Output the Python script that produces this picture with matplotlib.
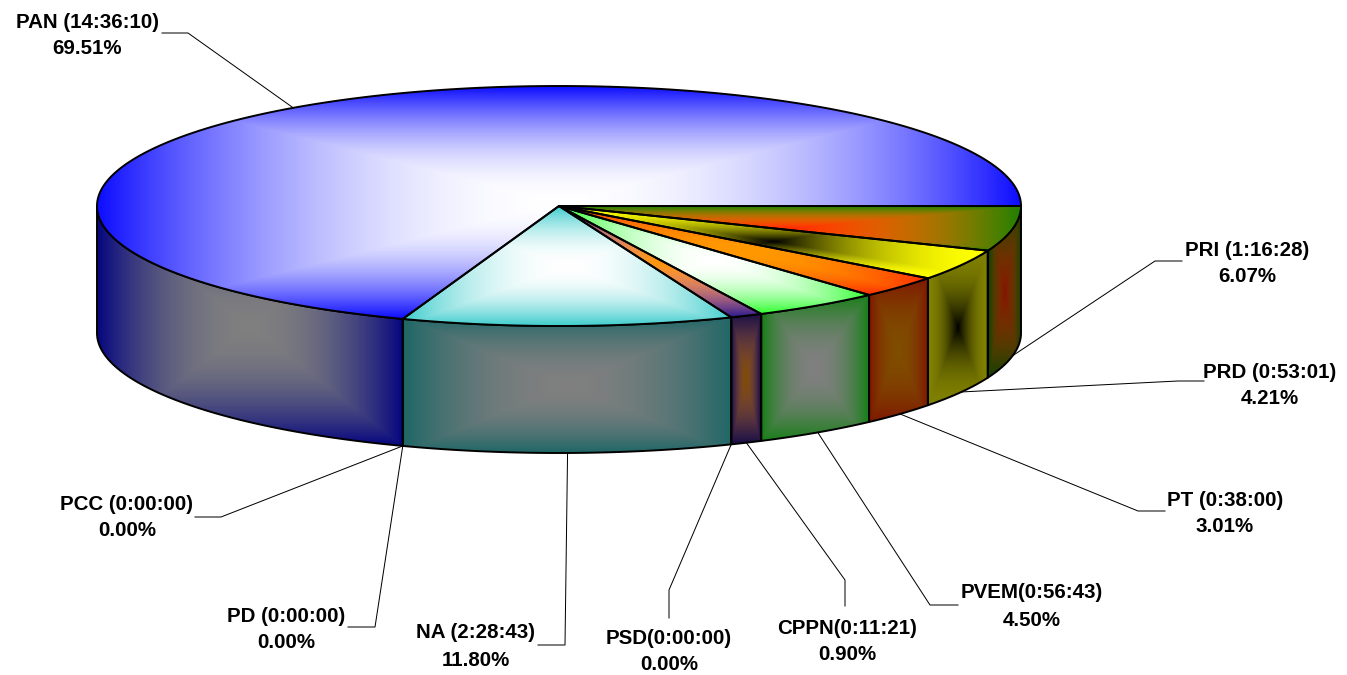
import numpy as np
import matplotlib
matplotlib.use("Agg")
import matplotlib.pyplot as plt
from matplotlib.patches import PathPatch
from matplotlib.path import Path

# ---- data ----
parties = ["PRI", "PRD", "PT", "PVEM", "CPPN", "PSD", "NA", "PD", "PCC", "PAN"]
times = ["PRI (1:16:28)", "PRD (0:53:01)", "PT (0:38:00)", "PVEM(0:56:43)", "CPPN(0:11:21)",
         "PSD(0:00:00)", "NA (2:28:43)", "PD (0:00:00)", "PCC (0:00:00)", "PAN (14:36:10)"]
pct_labels = ["6.07%", "4.21%", "3.01%", "4.50%", "0.90%", "0.00%", "11.80%", "0.00%", "0.00%", "69.51%"]
# slice shares as drawn in the picture
shares = [6.07, 4.21, 3.01, 4.50, 1.13, 0.00, 11.57, 0.00, 0.00, 69.51]
edge_colors = ["#228000", "#FFFF00", "#FF3000", "#30FF30", "#301C8C", "#000000", "#40CDCD", "#000000", "#000000", "#0C0CFF"]
center_colors = ["#FF2800", "#000000", "#FF9900", "#FFFFFF", "#FF9600", "#000000", "#FFFFFF", "#000000", "#000000", "#FFFFFF"]

# ---- layout (pixels) ----
W, H = 1347, 675
CX, CY, RX, RY, DEPTH = 559.0, 206.0, 462.0, 120.0, 127.0
LW = 1.4
FS = 14.8
# label: elbow, line end, text centre x, first-line y, second-line y
label_layout = {
    "PRI": ((1155, 261), (1182, 261), 1247, 250, 276),
    "PRD": ((1178, 381), (1204, 381), 1270, 372, 398),
    "PT": ((1138, 511), (1165, 511), 1225, 500, 526),
    "PVEM": ((930, 605), (958, 605), 1032, 593, 620),
    "CPPN": ((845, 580), (845, 606), 847, 629, 655),
    "PSD": ((669, 590), (669, 618), 669, 639, 665),
    "NA": ((565, 645), (538, 645), 476, 633, 660),
    "PD": ((375, 627), (348, 627), 286, 616, 642),
    "PCC": ((221, 517), (195, 517), 127, 505, 531),
    "PAN": ((188, 33), (162, 33), 87, 22, 49),
}

plt.rcParams["font.family"] = ["Liberation Sans", "DejaVu Sans"]
fig = plt.figure(figsize=(W / 100, H / 100), dpi=100)
ax = fig.add_axes([0, 0, 1, 1])
ax.set_xlim(0, W)
ax.set_ylim(H, 0)
ax.axis("off")


def ell(a, dy=0.0):
    a = np.radians(a)
    return np.column_stack([CX + RX * np.cos(a), CY + RY * np.sin(a) + dy])


def rgb(c):
    return np.array(matplotlib.colors.to_rgb(c))


def grad_poly(pts, edge, center, z):
    x0, y0 = pts.min(0)
    x1, y1 = pts.max(0)
    nx, ny = max(int(x1 - x0) + 2, 2), max(int(y1 - y0) + 2, 2)
    u = np.abs(np.linspace(-1, 1, nx))
    v = np.abs(np.linspace(-1, 1, ny))
    t = np.maximum(u[None, :], v[:, None])[..., None]
    # each channel stays near its lighter end for longer
    w = np.where(center >= edge, t ** 2, 1 - (1 - t) ** 2)
    img = center * (1 - w) + edge * w
    im = ax.imshow(img, extent=(x0, x1, y1, y0), aspect="auto", interpolation="bilinear",
                   zorder=z, origin="upper")
    closed = np.vstack([pts, pts[:1]])
    codes = [Path.MOVETO] + [Path.LINETO] * (len(pts) - 1) + [Path.CLOSEPOLY]
    path = Path(closed, codes)
    clip = PathPatch(path, transform=ax.transData, fc="none", ec="none")
    ax.add_patch(clip)
    im.set_clip_path(clip)
    ax.add_patch(PathPatch(path, fc="none", ec="black", lw=LW, zorder=z + 0.5, joinstyle="round"))


ends = np.cumsum(shares) * 3.6
starts = ends - np.array(shares) * 3.6
mids = (starts + ends) / 2

for i, name in enumerate(parties):
    a0, a1 = starts[i], ends[i]
    if shares[i] > 0:
        e, c = rgb(edge_colors[i]), rgb(center_colors[i])
        # rim (only the front half of the disc is visible)
        s0, s1 = max(a0, 0), min(a1, 180)
        if s1 > s0:
            arc = np.linspace(s0, s1, 160)
            rim = np.vstack([ell(arc), ell(arc[::-1], DEPTH)])
            grad_poly(rim, e * 0.5, c * 0.5, 2)
        # top face
        arc = np.linspace(a0, a1, 400)
        top = np.vstack([[[CX, CY]], ell(arc)])
        grad_poly(top, e, c, 3)

# leaders and labels
for i, name in enumerate(parties):
    m = mids[i]
    sx, sy = ell(np.array([m]), DEPTH if 0 <= m <= 180 else 0.0)[0]
    elbow, end, tx, y1, y2 = label_layout[name]
    ax.plot([sx, elbow[0], end[0]], [sy, elbow[1], end[1]], color="black", lw=0.72, zorder=1,
            solid_joinstyle="miter")
    ax.text(tx, y1, times[i], ha="center", va="center", fontsize=FS, fontweight="bold", color="black", zorder=5)
    ax.text(tx, y2, pct_labels[i], ha="center", va="center", fontsize=FS, fontweight="bold", color="black", zorder=5)

fig.savefig("out.png", dpi=100, facecolor="white")
